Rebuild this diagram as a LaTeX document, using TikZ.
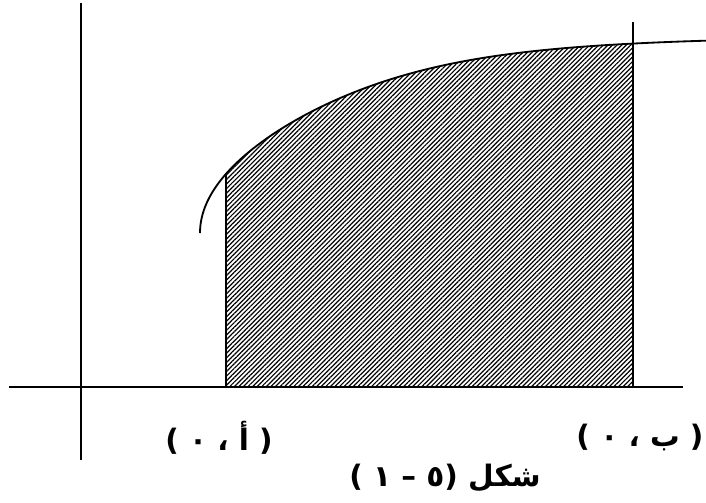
\documentclass[tikz,border=0pt]{standalone}
\usepackage{fontspec}
\newfontfamily\arabicfont[Script=Arabic]{DejaVu Sans}
\TeXXeTstate=1
\usetikzlibrary{patterns.meta}

\begin{document}
\begin{tikzpicture}[
x=0.025cm, y=-0.025cm,
axis/.style={line width=1.3pt},
bound/.style={line width=1.3pt},
hatch/.style={pattern={Lines[angle=45, distance=2.3pt, line width=0.85pt]}},
coordlabel/.style={font=\arabicfont\bfseries\fontsize{21}{25}\selectfont, inner sep=0pt}
]
\useasboundingbox (0,0) rectangle (706,502);

% Area under the curve between a and b
\begin{scope}
\clip (226,0) rectangle (633,387);
\fill[hatch] plot[domain=0:22.5, samples=90, variable=\t] ({200+\t*\t}, {233-11.6*\t/(1+(11.6*\t/198)^6)^(1/6)}) -- (706,387) -- (200,387) -- cycle;
\end{scope}

% Axes
\coordinate (ytop) at (81,3);
\coordinate (ybot) at (81,460);
\coordinate (xleft) at (9,387);
\coordinate (xright) at (683,387);
\draw[axis] (ytop) -- (ybot);
\draw[axis] (xleft) -- (xright);

% Curve
\draw[bound] plot[domain=0:22.5, samples=90, variable=\t] ({200+\t*\t}, {233-11.6*\t/(1+(11.6*\t/198)^6)^(1/6)});

% Boundaries x = a and x = b
\coordinate (atop) at (226,173);
\coordinate (abot) at (226,387);
\coordinate (btop) at (633,22);
\coordinate (bbot) at (633,387);
\draw[bound] (atop) -- (abot);
\draw[bound] (btop) -- (bbot);

% Labels
\node[coordlabel] (pa) at (219,438) {\beginR( أ ، ٠ )\endR};
\node[coordlabel] (pb) at (640,437) {\beginR( ب ، ٠ )\endR};
\node[coordlabel] (cap) at (445,478) {\beginR شكل (٥ – ١ )\endR};

\end{tikzpicture}
\end{document}
